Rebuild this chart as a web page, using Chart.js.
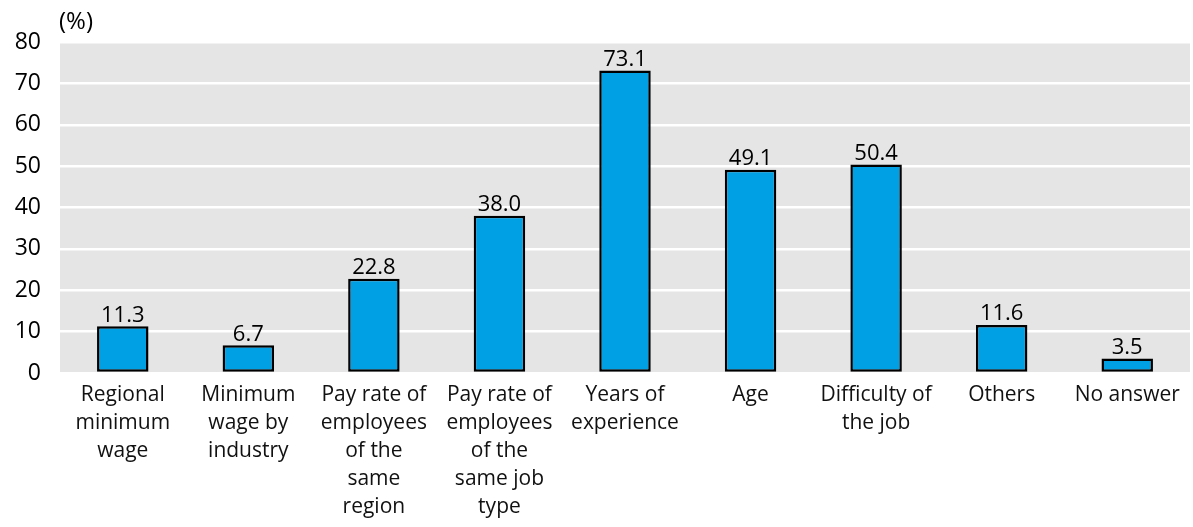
<!doctype html>
<html>
<head>
	<title>Factors considered in wage setting</title>
	<script src="https://cdn.jsdelivr.net/npm/chart.js@4"></script>
	<style>
	html, body { margin: 0; padding: 0; background: #fff; }
	#wrap { width: 1193px; height: 527px; }
	</style>
</head>
<body>
	<div id="wrap"><canvas id="canvas"></canvas></div>
	<script>
		var categories = [
			['Regional', 'minimum', 'wage'],
			['Minimum', 'wage by', 'industry'],
			['Pay rate of', 'employees', 'of the', 'same', 'region'],
			['Pay rate of', 'employees', 'of the', 'same job', 'type'],
			['Years of', 'experience'],
			['Age'],
			['Difficulty of', 'the job'],
			['Others'],
			['No answer']
		];
		var values = [11.3, 6.7, 22.8, 38.0, 73.1, 49.1, 50.4, 11.6, 3.5];
		var yTicks = [0, 10, 20, 30, 40, 50, 60, 70, 80];

		var FONT = '"Open Sans", "Noto Sans", sans-serif';

		// gray plot background + value labels + unit label
		var decor = {
			id: 'decor',
			beforeDraw: function(chart) {
				var a = chart.chartArea, ctx = chart.ctx;
				ctx.save();
				ctx.fillStyle = '#e5e5e5';
				ctx.fillRect(a.left, a.top, a.right - a.left, a.bottom - a.top);
				ctx.restore();
			},
			afterDatasetsDraw: function(chart) {
				var ctx = chart.ctx;
				var meta = chart.getDatasetMeta(0);
				ctx.save();
				ctx.fillStyle = '#000';
				ctx.font = '22px ' + FONT;
				ctx.textAlign = 'center';
				ctx.textBaseline = 'bottom';
				meta.data.forEach(function(bar, i) {
					ctx.fillText(values[i].toFixed(1), bar.x, bar.y);
				});
				ctx.font = '24px ' + FONT;
				ctx.textAlign = 'left';
				ctx.textBaseline = 'middle';
				ctx.fillText('(%)', 59, 22);
				ctx.restore();
			}
		};

		window.onload = function() {
			var ctx = document.getElementById('canvas').getContext('2d');
			window.myBar = new Chart(ctx, {
				type: 'bar',
				data: {
					labels: categories,
					datasets: [{
						data: values,
						backgroundColor: '#00a0e4',
						borderColor: '#000',
						borderWidth: 2.5,
						borderSkipped: false,
						barPercentage: 0.41,
						categoryPercentage: 1
					}]
				},
				options: {
					responsive: true,
					maintainAspectRatio: false,
					animation: false,
					layout: { padding: { top: 42, right: 3, left: 0, bottom: 0 } },
					plugins: {
						legend: { display: false },
						tooltip: { enabled: false }
					},
					scales: {
						x: {
							grid: { display: false, drawTicks: false },
							border: { display: false },
							ticks: {
								color: '#111',
								font: { family: FONT, size: 21, lineHeight: 1.33 },
								maxRotation: 0,
								autoSkip: false,
								padding: 8
							},
							afterFit: function(scale) { scale.height = 154; }
						},
						y: {
							min: 0,
							max: 80,
							afterBuildTicks: function(scale) {
								scale.ticks = yTicks.map(function(v) { return { value: v }; });
							},
							grid: { color: '#fff', lineWidth: 2.5, drawTicks: false },
							border: { display: false },
							ticks: {
								color: '#000',
								font: { family: FONT, size: 23 },
								padding: 19
							},
							afterFit: function(scale) { scale.width = 60; }
						}
					}
				},
				plugins: [decor]
			});
		};
	</script>
</body>
</html>
